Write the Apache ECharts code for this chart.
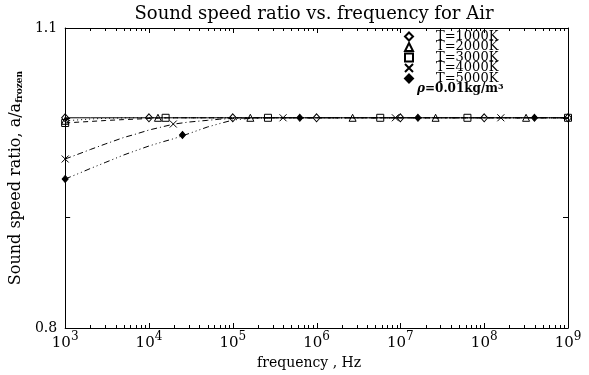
<!DOCTYPE html>
<html><head><meta charset="utf-8">
<script src="https://cdn.jsdelivr.net/npm/echarts@6/dist/echarts.min.js"></script>
<style>html,body{margin:0;padding:0;background:#fff}#c{width:589px;height:375px}</style>
</head><body><div id="c"></div>
<script>
// ---- data ----
const xMajorTicks = [1e3, 1e4, 1e5, 1e6, 1e7, 1e8, 1e9];
const xTickExponents = ['3', '4', '5', '6', '7', '8', '9'];
const yTickValues = [0.9, 1.0];
const yLabelValues = [0.8, 1.1];

const curveFreq = [1e3, 1.5e3, 2e3, 3e3, 5e3, 7e3, 1e4, 1.5e4, 2e4, 3e4, 5e4, 7e4, 1e5, 1.5e5, 2e5, 3e5, 1e9];
const ratio1000 = [1, 1, 1, 1, 1, 1, 1, 1, 1, 1, 1, 1, 1, 1, 1, 1, 1];
const ratio2000 = [0.9968, 0.9979, 0.9987, 0.9994, 0.9999, 1, 1, 1, 1, 1, 1, 1, 1, 1, 1, 1, 1];
const ratio3000 = [0.9945, 0.9955, 0.9961, 0.9971, 0.9981, 0.9986, 0.9993, 0.9999, 1, 1, 1, 1, 1, 1, 1, 1, 1];
const ratio4000 = [0.9572, 0.9628, 0.9669, 0.9725, 0.9793, 0.9829, 0.9871, 0.9908, 0.9934, 0.9955, 0.9973, 0.9985, 0.9993, 0.9999, 1, 1, 1];
const ratio5000 = [0.9371, 0.9431, 0.9476, 0.9536, 0.9613, 0.9658, 0.9705, 0.9751, 0.9782, 0.9834, 0.9903, 0.9939, 0.9976, 0.9992, 0.9997, 1, 1];

const symFreq1000 = [1e3, 1e4, 1e5, 1e6, 1e7, 1e8, 1e9];
const symVal1000  = [1, 1, 1, 1, 1, 1, 1];
const symFreq2000 = [1e3, 1.28e4, 1.62e5, 2.69e6, 2.63e7, 3.16e8];
const symVal2000  = [0.9968, 1, 1, 1, 1, 1];
const symFreq3000 = [1e3, 1.58e4, 2.63e5, 5.75e6, 6.31e7, 1e9];
const symVal3000  = [0.9945, 1, 1, 1, 1, 1];
const symFreq4000 = [1e3, 1.95e4, 3.98e5, 8.71e6, 1.58e8];
const symVal4000  = [0.9572, 0.9934, 1, 1, 1];
const symFreq5000 = [1e3, 2.51e4, 6.31e5, 1.62e7, 3.98e8];
const symVal5000  = [0.9371, 0.9819, 1, 1, 1];

const seriesNames = ['T=1000K', 'T=2000K', 'T=3000K', 'T=4000K', 'T=5000K'];

// ---- build ----
const xMinorTicks = [];
for (let e = 3; e < 9; e++) for (let m = 2; m <= 9; m++) xMinorTicks.push(m * Math.pow(10, e));

const zip = (a, b) => a.map((v, i) => [v, b[i]]);
const FONT = 'DejaVu Serif';
const curves = [ratio1000, ratio2000, ratio3000, ratio4000, ratio5000];
const dashes = ['solid', [1, 3], [5, 4], [6, 3, 1, 3], [6, 3, 1, 3, 1, 3, 1, 3]];
const symF = [symFreq1000, symFreq2000, symFreq3000, symFreq4000, symFreq5000];
const symV = [symVal1000, symVal2000, symVal3000, symVal4000, symVal5000];
const symShapes = ['diamond', 'triangle', 'rect', 'path://M0,0L10,10M10,0L0,10', 'diamond'];
const symSizes = [[7, 8], 7, 7, 7, [6, 7]];
const symFill = ['rgba(0,0,0,0)', 'rgba(0,0,0,0)', 'rgba(0,0,0,0)', 'rgba(0,0,0,0)', '#000'];

const series = [];
curves.forEach((c, i) => {
  series.push({
    type: 'line', name: 'curve' + i, data: zip(curveFreq, c), showSymbol: false, symbol: 'none',
    lineStyle: { color: '#000', width: 1, type: dashes[i] }, z: 2, animation: false
  });
});
symF.forEach((f, i) => {
  series.push({
    type: 'scatter', name: seriesNames[i], data: zip(f, symV[i]), symbol: symShapes[i], symbolSize: symSizes[i],
    itemStyle: { color: symFill[i], borderColor: '#000', borderWidth: 1, opacity: 1 }, z: 3, animation: false
  });
});
// x-axis tick marks (major + minor, bottom and top), placed through the x scale
const tickData = xMajorTicks.map(v => [v, 1, 5]).concat(xMinorTicks.map(v => [v, 1, 3]));
series.push({
  type: 'custom', name: 'xticks', silent: true, clip: false, z: 4, animation: false,
  encode: { x: 0, y: 1 }, data: tickData,
  renderItem: (params, api) => {
    const x = Math.round(api.coord([api.value(0), 1])[0]) + 0.5;
    const cs = params.coordSys, len = api.value(2);
    const b = cs.y + cs.height, t = cs.y;
    return { type: 'group', children: [
      { type: 'line', shape: { x1: x, y1: b, x2: x, y2: b - len }, style: { stroke: '#000', lineWidth: 1 } },
      { type: 'line', shape: { x1: x, y1: t, x2: x, y2: t + len }, style: { stroke: '#000', lineWidth: 1 } }
    ] };
  }
});

const axLine = { show: true, onZero: false, lineStyle: { color: '#000', width: 1 } };
const xBase = { type: 'log', min: 1e3, max: 1e9, splitLine: { show: false }, axisTick: { show: false } };
const yBase = { type: 'log', min: 0.8, max: 1.1, splitLine: { show: false } };
const ytick = vals => ({ show: true, inside: true, length: 5, customValues: vals, lineStyle: { color: '#000', width: 1 } });

const option = {
  backgroundColor: '#fff',
  animation: false,
  title: {
    text: 'Sound speed ratio vs. frequency for Air', left: 309, top: 0, textAlign: 'center',
    textStyle: { fontFamily: FONT, fontSize: 18, fontWeight: 'normal', color: '#000' }
  },
  grid: { left: 64, right: 21, top: 28, bottom: 47 },
  legend: {
    data: seriesNames, orient: 'vertical', left: 404, top: 30, padding: 0, itemWidth: 8, itemHeight: 8, itemGap: -2.5,
    textStyle: { fontFamily: FONT, fontSize: 13, color: '#000', padding: [0, 0, 0, 18] },
    selectedMode: false
  },
  graphic: [{
    type: 'text', left: 417, top: 83,
    style: {
      text: '{i|ρ}=0.01kg/m{s|3}', fill: '#000', font: 'bold 12px "DejaVu Serif"',
      rich: { i: { fontStyle: 'italic', fontWeight: 'bold', fontSize: 12, fontFamily: FONT }, s: { fontSize: 8, fontWeight: 'bold', verticalAlign: 'top', fontFamily: FONT } }
    }
  }],
  xAxis: [
    Object.assign({}, xBase, {
      position: 'bottom', axisLine: axLine,
      axisLabel: {
        customValues: xMajorTicks, margin: 3, color: '#000',
        formatter: v => '{b|10}{e|' + xTickExponents[Math.round(Math.log10(v)) - 3] + '}',
        rich: {
          b: { fontFamily: FONT, fontSize: 15, lineHeight: 20, verticalAlign: 'bottom', color: '#000' },
          e: { fontFamily: FONT, fontSize: 12, lineHeight: 12, verticalAlign: 'top', color: '#000' }
        }
      },
      name: 'frequency , Hz', nameLocation: 'middle', nameGap: 18,
      nameTextStyle: { fontFamily: FONT, fontSize: 14, color: '#000', padding: [0, 15, 0, 0] }
    }),
    Object.assign({}, xBase, { position: 'top', axisLine: axLine, axisLabel: { show: false } })
  ],
  yAxis: [
    Object.assign({}, yBase, {
      position: 'left', axisLine: axLine, axisTick: ytick(yTickValues),
      axisLabel: {
        customValues: yLabelValues, margin: 8, color: '#000', fontFamily: FONT, fontSize: 14,
        formatter: v => v.toFixed(1)
      },
      name: 'Sound speed ratio, a/a{s|frozen}', nameLocation: 'middle', nameGap: 27, nameRotate: 90,
      nameTextStyle: {
        fontFamily: FONT, fontSize: 16, color: '#000',
        rich: { s: { fontFamily: FONT, fontSize: 9, fontWeight: 'bold', color: '#000', verticalAlign: 'bottom', lineHeight: 9 } }
      }
    }),
    Object.assign({}, yBase, { position: 'right', axisLine: axLine, axisTick: ytick(yTickValues), axisLabel: { show: false } })
  ],
  series: series
};
echarts.init(document.getElementById('c'), null, { renderer: 'canvas' }).setOption(option);
</script>
</body></html>
